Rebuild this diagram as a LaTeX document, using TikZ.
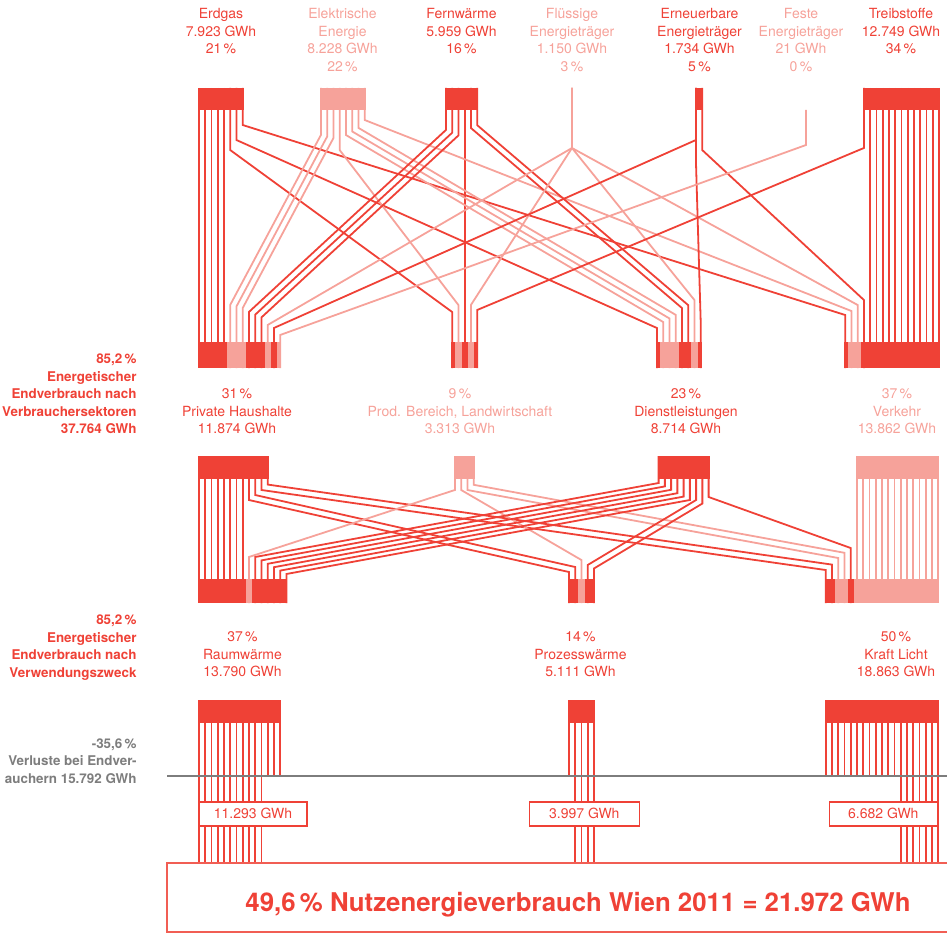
\documentclass[tikz,border=0pt]{standalone}
\usepackage{fontspec}
\setmainfont{TeX Gyre Heros}
\definecolor{dred}{RGB}{239,65,54}
\definecolor{lred}{RGB}{246,162,154}
\definecolor{lgray}{RGB}{125,125,125}
\tikzset{
  strand/.style={line width=1.8pt},
  lab/.style={anchor=base, inner sep=0pt, font=\fontsize{14}{17}\selectfont},
  leftlab/.style={anchor=base east, inner sep=0pt, font=\fontsize{13.4}{17}\selectfont\bfseries},
  gwbox/.style={draw=dred, line width=1.6pt, fill=white, text=dred, minimum height=24pt, inner sep=0pt, font=\fontsize{14}{17}\selectfont},
}
\def\pp{6.25}
% colour, sx, tx, y1, y2, n, d
\newcommand{\FlowD}[7]{%
  \foreach \kk in {1,...,#6}{%
    \pgfmathsetmacro{\fsx}{#2+(\kk-1)*\pp}%
    \pgfmathsetmacro{\ftx}{#3+(\kk-1)*\pp}%
    \pgfmathsetmacro{\fya}{#4+(\kk-1)*(#7)}%
    \pgfmathsetmacro{\fyb}{#5+(\kk-1)*(#7)}%
    \draw[strand,#1] (\fsx,\ys) -- (\fsx,\fya) -- (\ftx,\fyb) -- (\ftx,\yt);%
  }%
}
\newcommand{\FlowA}[6]{%
  \pgfmathsetmacro{\fdx}{#3-#2}%
  \pgfmathsetmacro{\fdy}{#5-#4}%
  \pgfmathsetmacro{\fdd}{\pp*(\fdy-veclen(\fdx,\fdy))/\fdx}%
  \FlowD{#1}{#2}{#3}{#4}{#5}{#6}{\fdd}%
}
\newcommand{\Straight}[3]{%
  \foreach \kk in {1,...,#3}{%
    \pgfmathsetmacro{\fsx}{#2+(\kk-1)*\pp}%
    \draw[strand,#1] (\fsx,\ys) -- (\fsx,\yt);%
  }%
}
% colour, X, j0, j1, n, ytop, ybot
\newcommand{\Seg}[7]{%
  \pgfmathsetmacro{\sgl}{max(#2,#2+0.9+(#3-0.5)*\pp)}%
  \pgfmathsetmacro{\sgr}{min(#2+(#5-1)*\pp+1.8,#2+0.9+(#4+0.5)*\pp)}%
  \fill[#1] (\sgl,#6) rectangle (\sgr,#7);%
}
% colour, X, n, ytop, ybot
\newcommand{\Blk}[5]{\fill[#1] (#2,#4) rectangle ({#2+(#3-1)*\pp+1.8},#5);}
% name, x, first baseline, style, lines
\newcommand{\Labs}[5]{\foreach \lt [count=\ii from 0] in {#5}{\node[#4] (#1-\ii) at (#2,{#3+\ii*17.5}) {\lt};}}

\begin{document}
\begin{tikzpicture}[x=1pt,y=-1pt]
\useasboundingbox (0,0) rectangle (947,933);

% ================= top layer: sources -> sectors =================
\def\ys{88}\def\yt{368}
\Straight{dred}{198.9}{5}
\Straight{dred}{870.15}{12}
\Straight{dred}{464.65}{1}
% Erdgas
\FlowA{dred}{230.15}{452.15}{150}{312}{1}
\FlowA{dred}{236.4}{656.9}{140}{328}{1}
\FlowA{dred}{242.65}{845.15}{125}{315}{1}
% Elektrische Energie
\FlowA{lred}{320.9}{230.15}{135}{305}{3}
\FlowA{lred}{339.65}{458.4}{150}{305}{1}
\FlowA{lred}{345.9}{663.15}{135}{322}{3}
\FlowA{lred}{364.65}{851.4}{120}{311}{1}
% Fernwaerme
\FlowA{dred}{445.9}{248.9}{130}{312}{3}
\FlowA{dred}{470.9}{681.9}{128}{308}{2}
% Fluessige
\FlowA{lred}{572}{267.65}{148}{325}{1}
\FlowA{lred}{572}{470.9}{148}{305}{1}
\FlowA{lred}{572}{694.4}{148}{300}{1}
\FlowA{lred}{572}{857.65}{148}{305}{1}
% Erneuerbare
\FlowA{dred}{695.9}{273.9}{140}{328}{1}
\FlowA{dred}{695.9}{700.65}{160}{320}{1}
\FlowA{dred}{702.15}{863.9}{150}{300}{1}
% Treibstoffe
\FlowA{dred}{863.9}{477.15}{148}{310}{1}
% Feste
\def\ys{110}
\FlowA{lred}{806}{280.15}{145}{335}{1}

% source blocks
\Blk{dred}{198}{8}{88}{110}
\Blk{lred}{320}{8}{88}{110}
\Blk{dred}{445}{6}{88}{110}
\Blk{dred}{695}{2}{88}{110}
\Blk{dred}{863}{13}{88}{110}
% sector blocks (top layer)
\Seg{dred}{198}{0}{4}{14}{342}{368}
\Seg{lred}{198}{5}{7}{14}{342}{368}
\Seg{dred}{198}{8}{10}{14}{342}{368}
\Seg{lred}{198}{11}{11}{14}{342}{368}
\Seg{dred}{198}{12}{12}{14}{342}{368}
\Seg{lred}{198}{13}{13}{14}{342}{368}
\Seg{dred}{451.25}{0}{0}{5}{342}{368}
\Seg{lred}{451.25}{1}{1}{5}{342}{368}
\Seg{dred}{451.25}{2}{2}{5}{342}{368}
\Seg{lred}{451.25}{3}{3}{5}{342}{368}
\Seg{dred}{451.25}{4}{4}{5}{342}{368}
\Seg{dred}{656}{0}{0}{8}{342}{368}
\Seg{lred}{656}{1}{3}{8}{342}{368}
\Seg{dred}{656}{4}{5}{8}{342}{368}
\Seg{lred}{656}{6}{6}{8}{342}{368}
\Seg{dred}{656}{7}{7}{8}{342}{368}
\Seg{dred}{844.25}{0}{0}{16}{342}{368}
\Seg{lred}{844.25}{1}{2}{16}{342}{368}
\Seg{dred}{844.25}{3}{15}{16}{342}{368}

% ================= middle layer: sectors -> purposes =================
\def\ys{456}\def\yt{603}
\Straight{dred}{198.9}{8}
\Straight{lred}{856.9}{14}
\FlowA{dred}{248.9}{568.9}{500}{572}{2}
\FlowA{dred}{261.4}{825.65}{490}{570}{2}
\FlowA{lred}{454.9}{248.9}{490}{557}{1}
\FlowA{lred}{461.15}{581.4}{490}{560}{1}
\FlowA{lred}{467.4}{838.15}{490}{558}{2}
\FlowD{dred}{658.6}{255.15}{483}{557}{6}{3.4}
\FlowA{dred}{696.1}{587.65}{500}{565}{2}
\FlowA{dred}{708.6}{850.65}{497}{548}{1}

\Blk{dred}{198}{12}{456}{479}
\Blk{lred}{454}{4}{456}{479}
\Blk{dred}{657.7}{9}{456}{479}
\Blk{lred}{856}{14}{456}{479}
\Seg{dred}{198}{0}{7}{15}{579}{603}
\Seg{lred}{198}{8}{8}{15}{579}{603}
\Seg{dred}{198}{9}{14}{15}{579}{603}
\Seg{dred}{568}{0}{1}{5}{579}{603}
\Seg{lred}{568}{2}{2}{5}{579}{603}
\Seg{dred}{568}{3}{4}{5}{579}{603}
\Seg{dred}{824.75}{0}{1}{19}{579}{603}
\Seg{lred}{824.75}{2}{3}{19}{579}{603}
\Seg{dred}{824.75}{4}{4}{19}{579}{603}
\Seg{lred}{824.75}{5}{18}{19}{579}{603}

% ================= bottom layer: purposes -> useful energy =================
\foreach \kk in {0,...,13}{%
  \pgfmathsetmacro{\fsx}{198.9+\kk*\pp}%
  \pgfmathsetmacro{\fe}{\kk<11 ? 863 : 776}%
  \draw[strand,dred] (\fsx,700) -- (\fsx,\fe);}
\foreach \kk in {0,...,4}{%
  \pgfmathsetmacro{\fsx}{568.9+\kk*\pp}%
  \pgfmathsetmacro{\fe}{\kk>0 ? 863 : 776}%
  \draw[strand,dred] (\fsx,700) -- (\fsx,\fe);}
\foreach \kk in {0,...,18}{%
  \pgfmathsetmacro{\fsx}{825.65+\kk*\pp}%
  \pgfmathsetmacro{\fe}{\kk>11 ? 863 : 776}%
  \draw[strand,dred] (\fsx,700) -- (\fsx,\fe);}
\Blk{dred}{198}{14}{700}{723}
\Blk{dred}{568}{5}{700}{723}
\Blk{dred}{824.75}{19}{700}{723}

% loss line
\draw[lgray, line width=2pt] (167,776) -- (947,776);
% useful-energy boxes
\node[gwbox, minimum width=108pt] (g1) at (253,813.85) {11.293 GWh};
\node[gwbox, minimum width=110pt] (g2) at (584.3,813.85) {3.997 GWh};
\node[gwbox, minimum width=108pt] (g3) at (883.3,813.85) {6.682 GWh};
% bottom frame
\draw[dred!85, line width=1.2pt] (167,863) rectangle (960,932);
\node[anchor=base, inner sep=0pt, text=dred, font=\fontsize{25.8}{30}\selectfont\bfseries] (title) at (578,911.5) {49,6\,\% Nutzenergieverbrauch Wien 2011 = 21.972 GWh};

% ================= labels =================
\Labs{erd}{221}{19}{lab,dred}{Erdgas, 7.923 GWh, 21\,\%}
\Labs{ele}{342.5}{19}{lab,lred}{Elektrische, Energie, 8.228 GWh, 22\,\%}
\Labs{fer}{461.5}{19}{lab,dred}{Fernwärme, 5.959 GWh, 16\,\%}
\Labs{flu}{572}{19}{lab,lred}{Flüssige, Energieträger, 1.150 GWh, 3\,\%}
\Labs{ern}{699.5}{19}{lab,dred}{Erneuerbare, Energieträger, 1.734 GWh, 5\,\%}
\Labs{fes}{801}{19}{lab,lred}{Feste, Energieträger, 21 GWh, 0\,\%}
\Labs{tre}{901}{19}{lab,dred}{Treibstoffe, 12.749 GWh, 34\,\%}

\Labs{pri}{237}{398.7}{lab,dred}{31\,\%, Private Haushalte, 11.874 GWh}
\Labs{pro}{460}{398.7}{lab,lred}{9\,\%, {Prod. Bereich, Landwirtschaft}, 3.313 GWh}
\Labs{die}{686}{398.7}{lab,dred}{23\,\%, Dienstleistungen, 8.714 GWh}
\Labs{ver}{897}{398.7}{lab,lred}{37\,\%, Verkehr, 13.862 GWh}

\Labs{rau}{242.5}{641.5}{lab,dred}{37\,\%, Raumwärme, 13.790 GWh}
\Labs{prz}{580.5}{641.5}{lab,dred}{14\,\%, Prozesswärme, 5.111 GWh}
\Labs{kra}{896}{641.5}{lab,dred}{50\,\%, Kraft Licht, 18.863 GWh}

\Labs{la}{136.7}{363.5}{leftlab,dred}{{85,2\,\%}, Energetischer, Endverbrauch nach, Verbrauchersektoren, 37.764 GWh}
\Labs{lb}{136.7}{624.5}{leftlab,dred}{{85,2\,\%}, Energetischer, Endverbrauch nach, Verwendungszweck}
\Labs{lc}{136.7}{748}{leftlab,lgray}{{-35,6\,\%}, Verluste bei Endver-, auchern 15.792 GWh}
\end{tikzpicture}
\end{document}
